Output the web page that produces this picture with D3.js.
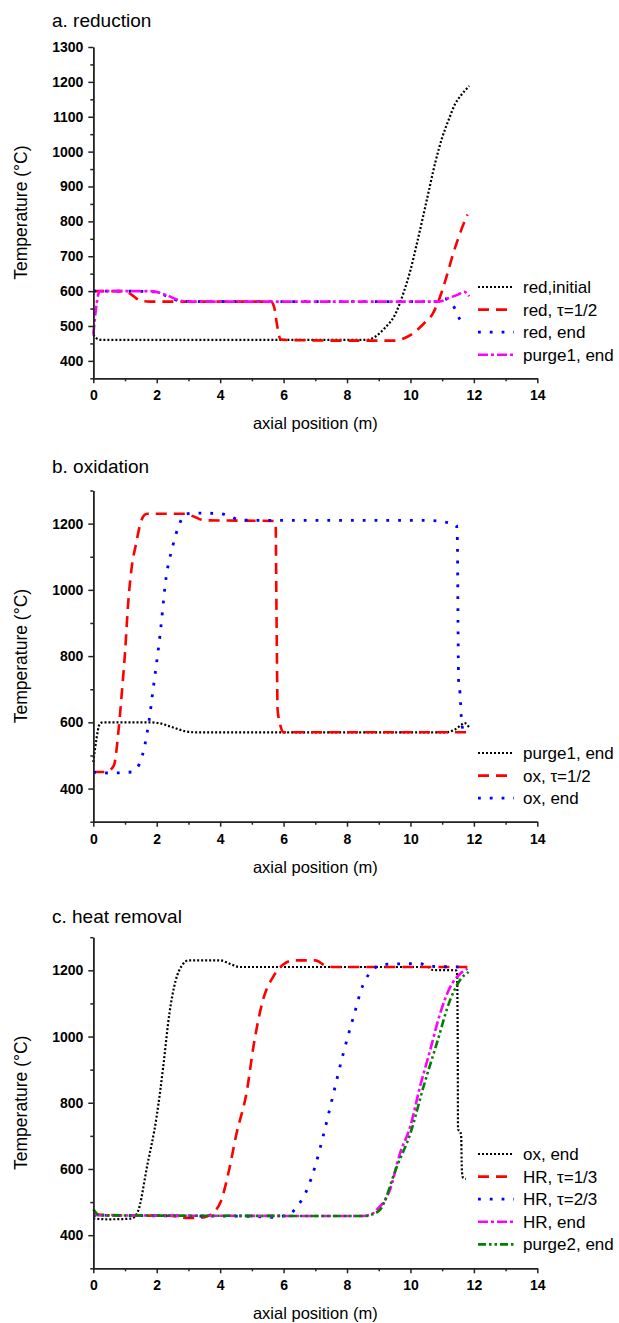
<!DOCTYPE html>
<html>
<head>
<meta charset="utf-8">
<script src="https://cdn.jsdelivr.net/npm/d3@7"></script>
<style>
  body { margin: 0; background: #fff; }
  text { font-family: "Liberation Sans", Arial, sans-serif; fill: #000; }
  .domain, .tick line { stroke: #222; stroke-width: 1.5; }
</style>
</head>
<body>
<svg id="chart" width="619" height="1323"></svg>
<script>
// x axis ticks (m)
var xMajor = [0, 2, 4, 6, 8, 10, 12, 14];
var xMinor = [1, 3, 5, 7, 9, 11, 13];

// panel a: reduction, [axial position, T]
var aRedInitial = [[0,475],[0.15,462],[0.3,460],[2,460],[4,460],[6,460],[8,460],[8.6,460],[8.9,470],[9.2,495],[9.5,530],[9.8,600],[10.0,660],[10.2,735],[10.5,855],[10.8,975],[11.0,1040],[11.2,1090],[11.4,1135],[11.6,1162],[11.85,1188]];
var aRedHalf = [[0,600],[1.0,600],[1.2,590],[1.5,572],[1.8,570],[5.6,570],[5.7,555],[5.8,500],[5.9,462],[6.1,460],[8,458],[9.5,458],[9.8,465],[10.1,480],[10.4,505],[10.7,535],[10.9,575],[11.1,630],[11.35,708],[11.6,775],[11.8,820]];
var aRedEnd = [[0,600],[1,600],[1.9,598],[2.2,590],[2.5,578],[2.8,571],[3.2,570],[10.9,570],[11.1,578],[11.25,570],[11.4,550],[11.55,520],[11.7,502]];
var aPurge1End = [[0,475],[0.1,560],[0.2,600],[1,600],[1.8,600],[2.1,595],[2.4,585],[2.7,574],[3.0,570],[10.9,570],[11.2,580],[11.5,590],[11.7,598],[11.85,585]];

// panel b: oxidation
var bPurge1End = [[0,480],[0.1,550],[0.2,595],[0.3,600],[1.8,600],[2.1,597],[2.5,585],[2.9,573],[3.2,570],[11.1,570],[11.4,578],[11.6,592],[11.7,598],[11.85,585]];
var bOxHalf = [[0,450],[0.3,450],[0.5,455],[0.65,470],[0.8,580],[0.9,690],[1.0,810],[1.1,960],[1.2,1060],[1.35,1140],[1.5,1205],[1.6,1225],[1.7,1230],[2.9,1230],[3.2,1220],[3.5,1210],[5.7,1208],[5.75,1200],[5.77,1000],[5.79,800],[5.81,640],[5.9,590],[6.0,570],[11.85,570]];
var bOxEnd = [[0,450],[0.5,447],[1.2,450],[1.4,465],[1.6,520],[1.75,600],[1.9,710],[2.1,860],[2.3,1040],[2.5,1130],[2.7,1195],[2.9,1228],[3.2,1232],[4.0,1230],[4.3,1222],[4.6,1212],[5,1210],[10.5,1210],[11.3,1200],[11.45,1195],[11.48,1150],[11.5,900],[11.52,720],[11.57,680],[11.6,620],[11.63,590],[11.66,572]];

// panel c: heat removal
var cOxEnd = [[0,450],[0.5,448],[1.2,450],[1.4,470],[1.7,610],[2.0,760],[2.2,905],[2.4,1070],[2.6,1170],[2.8,1215],[3.0,1230],[4.0,1230],[4.3,1220],[4.6,1210],[10.55,1210],[10.7,1201],[11.44,1200],[11.47,1190],[11.49,1000],[11.5,720],[11.57,712],[11.6,700],[11.62,600],[11.65,575],[11.75,570]];
var cHR13 = [[0,462],[1,460],[2.5,458],[2.9,452],[3.3,452],[3.6,457],[3.8,470],[4.0,497],[4.3,605],[4.5,700],[4.85,840],[5.05,970],[5.35,1110],[5.7,1185],[6.0,1218],[6.3,1230],[7.0,1230],[7.3,1215],[7.6,1210],[11.8,1210]];
var cHR23 = [[0,460],[3,458],[5,457],[5.6,454],[6.0,458],[6.2,462],[6.35,478],[6.75,540],[7.0,610],[7.25,700],[7.57,827],[7.88,948],[8.2,1058],[8.5,1155],[8.8,1200],[9.15,1218],[10.3,1220],[10.6,1212],[11.8,1210]];
var cHREnd = [[0,465],[0.2,460],[8.5,458],[8.8,465],[8.95,478],[9.35,536],[9.67,647],[10.0,730],[10.3,848],[10.62,958],[10.93,1068],[11.25,1149],[11.56,1189],[11.8,1205]];
var cPurge2End = [[0,478],[0.2,460],[8.6,458],[8.8,463],[9.05,478],[9.57,607],[10.0,708],[10.41,848],[10.83,979],[11.25,1110],[11.56,1170],[11.83,1195]];

// line looks
var styles = {
    blackDot: {color: '#000', width: 2.2, dash: '2,2'},
    redDash: {color: '#ff0000', width: 2.6, dash: '11,7'},
    blueDot: {color: '#0000ff', width: 2.8, dash: '2.8,9'},
    magDashDot: {color: '#ff00ff', width: 2.6, dash: '10,3,3,3'},
    greenDashDotDot: {color: '#008000', width: 2.6, dash: '8,3,2.5,3,2.5,3'}
};

var panels = [
    {
        title: 'a. reduction', titleY: 26.5,
        yDomain: [350, 1300], yRange: [378.3, 47],
        yMajor: d3.range(400, 1301, 100), yMinor: d3.range(350, 1301, 100),
        legendY: 287,
        series: [
            {name: 'red,initial', data: aRedInitial, style: 'blackDot'},
            {name: 'red, \u03c4=1/2', data: aRedHalf, style: 'redDash'},
            {name: 'red, end', data: aRedEnd, style: 'blueDot'},
            {name: 'purge1, end', data: aPurge1End, style: 'magDashDot'}
        ]
    },
    {
        title: 'b. oxidation', titleY: 472.7,
        yDomain: [300, 1300], yRange: [821.7, 490.5],
        yMajor: d3.range(400, 1201, 200), yMinor: d3.range(300, 1301, 200),
        legendY: 753,
        series: [
            {name: 'purge1, end', data: bPurge1End, style: 'blackDot'},
            {name: 'ox, \u03c4=1/2', data: bOxHalf, style: 'redDash'},
            {name: 'ox, end', data: bOxEnd, style: 'blueDot'}
        ]
    },
    {
        title: 'c. heat removal', titleY: 923.3,
        yDomain: [300, 1300], yRange: [1268.3, 937.2],
        yMajor: d3.range(400, 1201, 200), yMinor: d3.range(300, 1301, 200),
        legendY: 1154,
        series: [
            {name: 'ox, end', data: cOxEnd, style: 'blackDot'},
            {name: 'HR, \u03c4=1/3', data: cHR13, style: 'redDash'},
            {name: 'HR, \u03c4=2/3', data: cHR23, style: 'blueDot'},
            {name: 'HR, end', data: cHREnd, style: 'magDashDot'},
            {name: 'purge2, end', data: cPurge2End, style: 'greenDashDotDot'}
        ]
    }
];

var svg = d3.select('#chart');
var x = d3.scaleLinear().domain([0, 14]).range([93.3, 537.3]);

function boldTicks(sel) {
    sel.attr('font-family', null).attr('font-size', null);
    sel.selectAll('.tick text')
        .attr('fill', '#000')
        .style('font-family', '"Liberation Sans", Arial, sans-serif')
        .style('font-size', '14px')
        .style('font-weight', 'bold');
}

panels.forEach(function(p) {
    var y = d3.scaleLinear().domain(p.yDomain).range(p.yRange);
    var bottom = p.yRange[0];
    var g = svg.append('g');

    // titles
    g.append('text').attr('x', 52).attr('y', p.titleY)
        .style('font-size', '19px').text(p.title);

    g.append('text')
        .attr('transform', 'translate(26.5,' + ((p.yRange[0] + p.yRange[1]) / 2) + ') rotate(-90)')
        .attr('text-anchor', 'middle')
        .style('font-size', '17.5px')
        .text('Temperature (\u00b0C)');

    g.append('text').attr('x', (x.range()[0] + x.range()[1]) / 2).attr('y', bottom + 51)
        .attr('text-anchor', 'middle').style('font-size', '16.5px')
        .text('axial position (m)');

    // curves
    var line = d3.line()
        .x(function(d) { return x(d[0]); })
        .y(function(d) { return y(d[1]); })
        .curve(d3.curveMonotoneX);

    p.series.forEach(function(s) {
        var st = styles[s.style];
        g.append('path').datum(s.data)
            .attr('d', line)
            .attr('fill', 'none')
            .attr('stroke', st.color)
            .attr('stroke-width', st.width)
            .attr('stroke-dasharray', st.dash);
    });

    // axes: majors with labels, minors without
    g.append('g').attr('transform', 'translate(0,' + bottom + ')')
        .call(d3.axisBottom(x).tickValues(xMinor).tickSize(3).tickSizeOuter(0).tickFormat(''));
    g.append('g').attr('transform', 'translate(0,' + bottom + ')')
        .call(d3.axisBottom(x).tickValues(xMajor).tickSize(5).tickSizeOuter(0).tickPadding(7))
        .call(boldTicks);

    g.append('g').attr('transform', 'translate(' + x.range()[0] + ',0)')
        .call(d3.axisLeft(y).tickValues(p.yMinor).tickSize(3).tickSizeOuter(0).tickFormat(''));
    g.append('g').attr('transform', 'translate(' + x.range()[0] + ',0)')
        .call(d3.axisLeft(y).tickValues(p.yMajor).tickSize(5).tickSizeOuter(0).tickPadding(5)
            .tickFormat(d3.format('d')))
        .call(boldTicks);

    // legend
    p.series.forEach(function(s, i) {
        var st = styles[s.style];
        var ly = p.legendY + i * 22.6;
        g.append('line')
            .attr('x1', 478).attr('x2', 514).attr('y1', ly).attr('y2', ly)
            .attr('stroke', st.color)
            .attr('stroke-width', st.width)
            .attr('stroke-dasharray', st.dash);
        g.append('text').attr('x', 523).attr('y', ly).attr('dy', '0.35em')
            .style('font-size', '17px').text(s.name);
    });
});
</script>
</body>
</html>
